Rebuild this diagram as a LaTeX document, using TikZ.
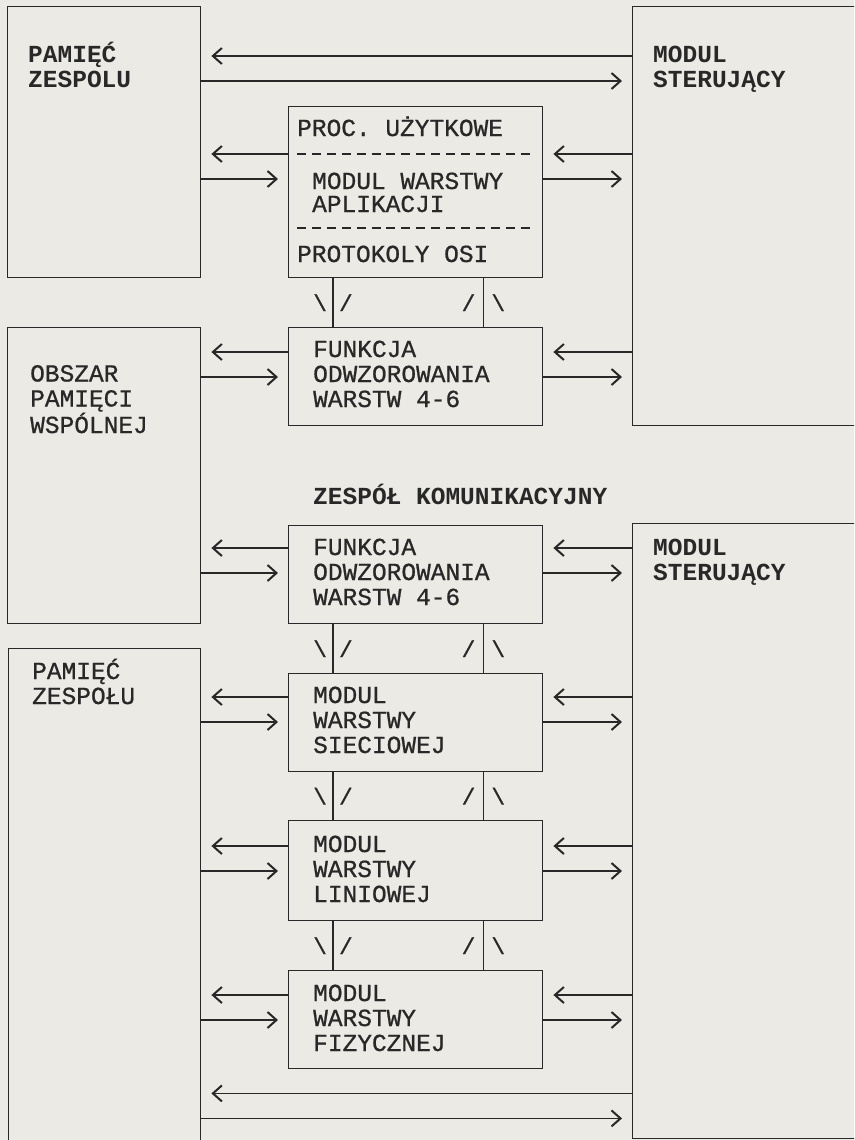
\documentclass[tikz,border=0pt]{standalone}
\usepackage{fontspec}
\newfontfamily\twr{Liberation Mono}[FakeBold=0.8]
\newfontfamily\twb{Liberation Mono}
\usetikzlibrary{arrows.meta,positioning}
\definecolor{paper}{RGB}{236,234,228}
\definecolor{ink}{RGB}{40,40,40}

\begin{document}
\begin{tikzpicture}[x=1pt,y=-1pt,
  every node/.style={font=\twr\fontsize{24.5}{25}\selectfont, text=ink},
  box/.style={draw=ink, line width=1.4pt, anchor=north west, inner sep=0pt},
  lbl/.style={anchor=base west, align=left, inner sep=0pt},
  hd/.style={lbl, font=\twb\bfseries\fontsize{24.5}{25}\selectfont},
  arr/.style={draw=ink, line width=1.4pt, -{Straight Barb[length=9pt,width=16pt,line width=2pt]}, shorten >=10pt},
  sep/.style={draw=ink, line width=1.6pt, dash pattern=on 9pt off 5.9pt},
  link/.style={draw=ink, line width=1.4pt},
  tick/.style={inner sep=0pt, font=\twr\fontsize{23}{23}\selectfont}]
\useasboundingbox (0,0) rectangle (854,1140);
\fill[paper] (0,0) rectangle (854,1140);
\clip (0,0) rectangle (854,1140);

% left column
\node[box, minimum width=193pt, minimum height=271pt] (pz1) at (7,6) {};
\node[box, minimum width=193pt, minimum height=296pt] (obs) at (7,327) {};
\node[box, minimum width=192pt, minimum height=520pt] (pz2) at (8,648) {};
% right column
\node[box, minimum width=260pt, minimum height=419pt] (ms1) at (632,6) {};
\node[box, minimum width=260pt, minimum height=615pt] (ms2) at (632,523) {};
% layers
\node[box, minimum width=254pt, minimum height=171pt] (a) at (288,106) {};
\node[box, minimum width=254pt, minimum height=98pt] (b) at (288,327) {};
\node[box, minimum width=254pt, minimum height=98pt] (c) at (288,525) {};
\node[box, minimum width=254pt, minimum height=98pt] (d) at (288,673) {};
\node[box, minimum width=254pt, minimum height=100pt] (e) at (288,820) {};
\node[box, minimum width=254pt, minimum height=98pt] (f) at (288,970) {};

\node[hd] (tpz1) at ([shift={(21,82)}]pz1.north west) {PAMIĘĆ\\ZESPOLU};
\node[lbl] (tobs) at ([shift={(23,106)}]obs.north west) {OBSZAR\\PAMIĘCI\\WSPÓLNEJ};
\node[lbl] (tpz2) at ([shift={(24,56)}]pz2.north west) {PAMIĘĆ\\ZESPOŁU};
\node[hd] (tms1) at ([shift={(21,82)}]ms1.north west) {MODUL\\STERUJĄCY};
\node[hd] (tms2) at ([shift={(21,57)}]ms2.north west) {MODUL\\STERUJĄCY};

\node[lbl] (ta1) at ([shift={(9,30)}]a.north west) {PROC. UŻYTKOWE};
\node[lbl] (ta2) at ([shift={(24,106)}]a.north west) {MODUL WARSTWY\\[-2pt]APLIKACJI};
\node[lbl] (ta3) at ([shift={(9,156)}]a.north west) {PROTOKOLY OSI};
\draw[sep] ([shift={(9,48)}]a.north west) -- ([shift={(-12,48)}]a.north east);
\draw[sep] ([shift={(9,122)}]a.north west) -- ([shift={(-12,122)}]a.north east);

\node[lbl] (tb) at ([shift={(25,80)}]b.north west) {FUNKCJA\\ODWZOROWANIA\\WARSTW 4-6};
\node[hd] (zk) at ([shift={(25,78)}]b.south west) {ZESPÓŁ KOMUNIKACYJNY};
\node[lbl] (tc) at ([shift={(25,80)}]c.north west) {FUNKCJA\\ODWZOROWANIA\\WARSTW 4-6};
\node[lbl] (td) at ([shift={(25,80)}]d.north west) {MODUL\\WARSTWY\\SIECIOWEJ};
\node[lbl] (te) at ([shift={(25,82)}]e.north west) {MODUL\\WARSTWY\\LINIOWEJ};
\node[lbl] (tf) at ([shift={(25,81)}]f.north west) {MODUL\\WARSTWY\\FIZYCZNEJ};

% links between layers
\foreach \u/\v in {a/b,c/d,d/e,e/f}{
  \draw[link] ([xshift=45pt]\u.south west) -- ([xshift=45pt]\v.north west)
    node[midway, tick] (dn\u) {\textbackslash\hspace{12pt}/};
  \draw[link] ([xshift=-60pt]\u.south east) -- ([xshift=-60pt]\v.north east)
    node[midway, tick] (up\u) {/\hspace{16pt}\textbackslash};
}

% arrows to the memories and the control modules
\foreach \m/\l/\r/\o in {a/pz1/ms1/48, b/obs/ms1/25, c/obs/ms2/23, d/pz2/ms2/24, e/pz2/ms2/26, f/pz2/ms2/25}{
  \coordinate (p\m) at ([yshift=-\o pt]\m.north west);
  \coordinate (q\m) at ([yshift=-\o pt]\m.north east);
  \draw[arr] (p\m) -- (p\m -| \l.east);
  \draw[arr] ([yshift=-25pt]p\m -| \l.east) -- ([yshift=-25pt]p\m);
  \draw[arr] (q\m -| \r.west) -- (q\m);
  \draw[arr] ([yshift=-25pt]q\m) -- ([yshift=-25pt]q\m -| \r.west);
}
\draw[arr] ([yshift=-50pt]ms1.north west) -- ([yshift=-50pt]ms1.north west -| pz1.east);	%top
\draw[arr] ([yshift=-75pt]pz1.north east) -- ([yshift=-75pt]pz1.north east -| ms1.west);
\draw[arr] ([yshift=-24pt]f.south -| ms2.west) -- ([yshift=-24pt]f.south -| pz2.east);	%bottom
\draw[arr] ([yshift=-49pt]f.south -| pz2.east) -- ([yshift=-49pt]f.south -| ms2.west);
\end{tikzpicture}
\end{document}
